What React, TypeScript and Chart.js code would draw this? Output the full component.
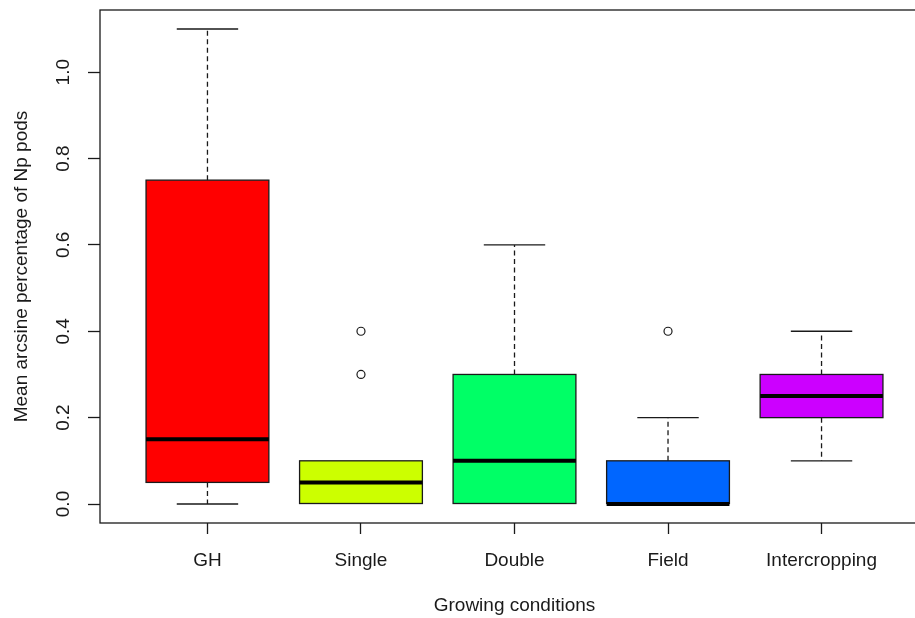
import React, { useEffect, useRef } from "react";
import { Chart, registerables } from "chart.js";

Chart.register(...registerables);

const CATEGORIES = ["GH", "Single", "Double", "Field", "Intercropping"];
const POSITIONS = [1, 2, 3, 4, 5];
const WHISKER_LOW = [0, 0, 0, 0, 0.1];
const Q1 = [0.05, 0, 0, 0, 0.2];
const MEDIAN = [0.15, 0.05, 0.1, 0, 0.25];
const Q3 = [0.75, 0.1, 0.3, 0.1, 0.3];
const WHISKER_HIGH = [1.1, 0.1, 0.6, 0.2, 0.4];
const OUTLIERS: number[][] = [[], [0.3, 0.4], [], [0.4], []];
const BOX_COLORS = ["#FF0000", "#CCFF00", "#00FF66", "#0066FF", "#CC00FF"];
const Y_TICKS = [0, 0.2, 0.4, 0.6, 0.8, 1.0];
const X_TITLE = "Growing conditions";
const Y_TITLE = "Mean arcsine percentage of Np pods";

const FONT = "'Liberation Sans', Arial, sans-serif";
const INK = "#1a1a1a";
const FONT_SIZE = 19;

const boxPlugin = {
  id: "boxDecor",
  beforeDatasetsDraw(chart: any) {
    const ctx = chart.ctx;
    const meta = chart.getDatasetMeta(0);
    const y = chart.scales.y;
    ctx.save();
    ctx.strokeStyle = INK;
    ctx.lineWidth = 1.3;
    meta.data.forEach((el: any, i: number) => {
      const cx = el.x;
      const half = el.width / 4;
      const yHigh = y.getPixelForValue(WHISKER_HIGH[i]);
      const yQ3 = y.getPixelForValue(Q3[i]);
      const yLow = y.getPixelForValue(WHISKER_LOW[i]);
      const yQ1 = y.getPixelForValue(Q1[i]);
      const hasHigh = WHISKER_HIGH[i] > Q3[i];
      const hasLow = WHISKER_LOW[i] < Q1[i];
      ctx.setLineDash([5, 3.5]);
      ctx.beginPath();
      if (hasHigh) {
        ctx.moveTo(cx, yQ3);
        ctx.lineTo(cx, yHigh);
      }
      if (hasLow) {
        ctx.moveTo(cx, yQ1);
        ctx.lineTo(cx, yLow);
      }
      ctx.stroke();
      ctx.setLineDash([]);
      ctx.beginPath();
      if (hasHigh) {
        ctx.moveTo(cx - half, yHigh);
        ctx.lineTo(cx + half, yHigh);
      }
      if (hasLow) {
        ctx.moveTo(cx - half, yLow);
        ctx.lineTo(cx + half, yLow);
      }
      ctx.stroke();
    });
    ctx.restore();
  },
  afterDatasetsDraw(chart: any) {
    const ctx = chart.ctx;
    const meta = chart.getDatasetMeta(0);
    const y = chart.scales.y;
    ctx.save();
    ctx.strokeStyle = INK;
    ctx.lineWidth = 1.3;
    meta.data.forEach((el: any) => {
      const top = Math.min(el.y, el.base);
      const h = Math.abs(el.base - el.y);
      ctx.strokeRect(el.x - el.width / 2, top, el.width, h);
    });
    ctx.strokeStyle = "#000";
    ctx.lineWidth = 4;
    meta.data.forEach((el: any, i: number) => {
      const ym = y.getPixelForValue(MEDIAN[i]);
      ctx.beginPath();
      ctx.moveTo(el.x - el.width / 2, ym);
      ctx.lineTo(el.x + el.width / 2, ym);
      ctx.stroke();
    });
    ctx.restore();
  },
  afterDraw(chart: any) {
    const ctx = chart.ctx;
    const a = chart.chartArea;
    const y = chart.scales.y;
    ctx.save();
    ctx.strokeStyle = INK;
    ctx.lineWidth = 1.3;
    ctx.strokeRect(a.left, a.top, a.right - a.left, a.bottom - a.top);
    ctx.fillStyle = INK;
    ctx.font = `${FONT_SIZE}px ${FONT}`;
    ctx.textAlign = "center";
    ctx.textBaseline = "middle";
    y.ticks.forEach((t: any) => {
      const py = y.getPixelForValue(t.value);
      ctx.save();
      ctx.translate(a.left - 36, py);
      ctx.rotate(-Math.PI / 2);
      ctx.fillText(Number(t.value).toFixed(1), 0, 0);
      ctx.restore();
    });
    ctx.restore();
  },
};

export default function App() {
  const ref = useRef<HTMLCanvasElement | null>(null);

  useEffect(() => {
    if (!ref.current) return;
    const boxData = POSITIONS.map((p, i) => ({ x: p, y: [Q1[i], Q3[i]] }));
    const outlierData: { x: number; y: number }[] = [];
    OUTLIERS.forEach((vals, i) => vals.forEach((v) => outlierData.push({ x: POSITIONS[i], y: v })));

    const chart = new Chart(ref.current, {
      type: "bar",
      data: {
        datasets: [
          {
            type: "bar",
            data: boxData as any,
            backgroundColor: BOX_COLORS,
            borderWidth: 0,
            barPercentage: 0.8,
            categoryPercentage: 1,
          },
          {
            type: "scatter",
            data: outlierData,
            pointRadius: 4,
            pointHoverRadius: 4,
            pointBorderWidth: 1.2,
            pointBorderColor: INK,
            pointBackgroundColor: "rgba(255,255,255,0)",
          } as any,
        ],
      },
      options: {
        responsive: false,
        animation: false,
        devicePixelRatio: 1,
        layout: { padding: { left: 0, top: 10, right: 6, bottom: 0 } },
        plugins: { legend: { display: false }, tooltip: { enabled: false } },
        events: [],
        scales: {
          x: {
            type: "linear",
            min: 0.3,
            max: 5.7,
            offset: false,
            afterBuildTicks: (s: any) => {
              s.ticks = POSITIONS.map((v) => ({ value: v }));
            },
            afterFit: (s: any) => {
              s.height = 95;
            },
            grid: {
              offset: false,
              drawOnChartArea: false,
              drawTicks: true,
              tickLength: 11,
              tickColor: INK,
              tickWidth: 1.3,
            },
            border: { display: false },
            ticks: {
              autoSkip: false,
              maxRotation: 0,
              minRotation: 0,
              padding: 15,
              color: INK,
              font: { family: FONT, size: FONT_SIZE },
              callback: (v: any) => CATEGORIES[POSITIONS.indexOf(Number(v))] ?? "",
            },
            title: {
              display: true,
              text: X_TITLE,
              color: INK,
              font: { family: FONT, size: FONT_SIZE },
              padding: { top: 0, bottom: 1 },
            },
          },
          y: {
            type: "linear",
            min: -0.044,
            max: 1.144,
            afterBuildTicks: (s: any) => {
              s.ticks = Y_TICKS.map((v) => ({ value: v }));
            },
            afterFit: (s: any) => {
              s.width = 100;
            },
            grid: {
              drawOnChartArea: false,
              drawTicks: true,
              tickLength: 12,
              tickColor: INK,
              tickWidth: 1.3,
            },
            border: { display: false },
            ticks: { display: false },
            title: {
              display: true,
              text: Y_TITLE,
              color: INK,
              font: { family: FONT, size: FONT_SIZE },
              padding: { top: 10, bottom: 0 },
            },
          },
        },
      },
      plugins: [boxPlugin],
    });
    return () => chart.destroy();
  }, []);

  return (
    <div
      style={{
        position: "fixed",
        left: 0,
        top: 0,
        width: 915,
        height: 618,
        overflow: "hidden",
        background: "#fff",
      }}
    >
      <canvas ref={ref} width={935} height={618} style={{ display: "block" }} />
    </div>
  );
}
